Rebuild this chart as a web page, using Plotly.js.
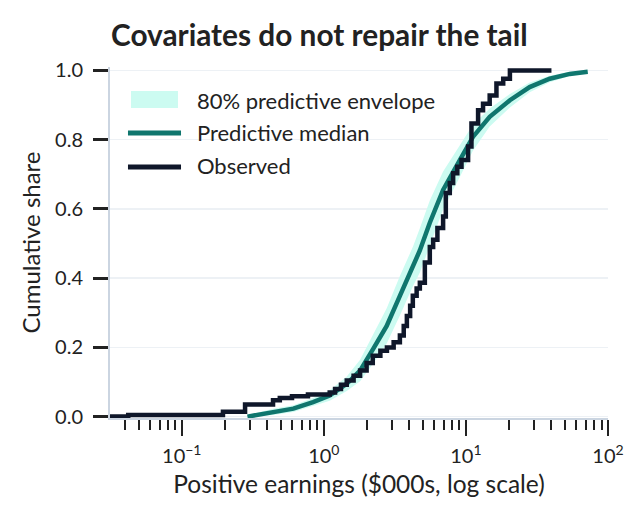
<!DOCTYPE html>
<html><head><meta charset="utf-8">
<script src="https://cdn.plot.ly/plotly-3.0.1.min.js"></script>
<style>html,body{margin:0;padding:0;background:#fff}#chart{width:643px;height:523px}</style>
</head><body><div id="chart"></div>
<script>
// Predictive median CDF (x in $000s)
const medX = [0.29, 0.44, 0.61, 0.84, 1.10, 1.45, 1.80, 2.22, 2.77, 3.43, 4.25, 4.74, 5.57, 6.91, 9.06, 11.2, 14.7, 20.4, 28.1, 38.9, 53.8, 72];
const medY = [0.0, 0.0135, 0.023, 0.042, 0.061, 0.095, 0.133, 0.195, 0.262, 0.349, 0.435, 0.48, 0.56, 0.655, 0.741, 0.808, 0.866, 0.914, 0.952, 0.976, 0.99, 0.996];
// 80% predictive envelope bounds on the same grid
const envLo = [0.0, 0.0045, 0.013, 0.030, 0.046, 0.074, 0.102, 0.153, 0.211, 0.292, 0.378, 0.416, 0.496, 0.598, 0.692, 0.768, 0.838, 0.893, 0.937, 0.966, 0.984, 0.993];
const envHi = [0.004, 0.0225, 0.033, 0.054, 0.076, 0.116, 0.164, 0.237, 0.313, 0.406, 0.492, 0.544, 0.624, 0.708, 0.785, 0.843, 0.89, 0.932, 0.965, 0.985, 0.996, 0.999];
// Observed empirical CDF (steps)
const obsX = [0.031, 0.042, 0.195, 0.279, 0.439, 0.49, 0.597, 0.773, 1.10, 1.20, 1.32, 1.45, 1.62, 1.80, 2.0, 2.21, 2.5, 2.78, 3.1, 3.43, 3.65, 3.84, 4.05, 4.23, 4.5, 4.74, 5.14, 5.57, 5.88, 6.3, 6.91, 7.22, 7.7, 8.13, 8.7, 9.31, 10.36, 10.94, 12.18, 13.2, 14.7, 16.4, 18.3, 20.4, 40.0];
const obsY = [0, 0.005, 0.014, 0.035, 0.047, 0.054, 0.059, 0.064, 0.07, 0.08, 0.092, 0.104, 0.118, 0.133, 0.155, 0.176, 0.19, 0.2, 0.215, 0.234, 0.262, 0.291, 0.32, 0.349, 0.37, 0.387, 0.445, 0.49, 0.511, 0.545, 0.578, 0.646, 0.675, 0.703, 0.722, 0.741, 0.78, 0.847, 0.885, 0.904, 0.928, 0.962, 0.976, 1.0, 1.0];
// Axis ticks
const xTickVals = [0.1, 1, 10, 100];
const xTickText = ['10<sup>−1</sup>', '10<sup>0</sup>', '10<sup>1</sup>', '10<sup>2</sup>'];
const xMinorVals = [0.04,0.05,0.06,0.07,0.08,0.09,0.2,0.3,0.4,0.5,0.6,0.7,0.8,0.9,2,3,4,5,6,7,8,9,20,30,40,50,60,70,80,90];
const yTickVals = [0, 0.2, 0.4, 0.6, 0.8, 1.0];

const FONT = 'Lato, "Noto Sans", sans-serif';
const MINT = '#ccfbf1', TEAL = '#0f766e', NAVY = '#0f172a';
const CLEAR = 'rgba(0,0,0,0)';
const traces = [
  {x: medX, y: envLo, type: 'scatter', mode: 'lines', line: {width: 0, color: CLEAR}, showlegend: false, hoverinfo: 'skip'},
  {x: medX, y: envHi, type: 'scatter', mode: 'lines', fill: 'tonexty', fillcolor: MINT, line: {width: 0, color: CLEAR}, showlegend: false},
  {x: medX, y: medY, type: 'scatter', mode: 'lines', line: {color: TEAL, width: 4.5}, showlegend: false},
  {x: obsX, y: obsY, type: 'scatter', mode: 'lines', line: {color: NAVY, width: 4.5, shape: 'hv'}, showlegend: false},
  // legend entries (swatches drawn as shapes below)
  {x: [null], y: [null], type: 'scatter', mode: 'lines', line: {width: 1, color: CLEAR}, name: '80% predictive envelope', legendgroup: 'a'},
  {x: [null], y: [null], type: 'scatter', mode: 'lines', line: {width: 1, color: CLEAR}, name: 'Predictive median', legendgroup: 'b'},
  {x: [null], y: [null], type: 'scatter', mode: 'lines', line: {width: 1, color: CLEAR}, name: 'Observed', legendgroup: 'c'}
];
const layout = {
  width: 643, height: 523,
  margin: {l: 110, r: 35, t: 67, b: 105},
  paper_bgcolor: '#fff', plot_bgcolor: '#fff',
  font: {family: FONT, color: '#222', size: 20},
  title: {text: '<b>Covariates do not repair the tail</b>', font: {family: FONT, size: 29.8, color: '#222'},
          xref: 'container', yref: 'container', x: 111/643, xanchor: 'left', y: 1 - 36/523, yanchor: 'middle'},
  xaxis: {type: 'log', range: [-1.505, 2], showline: true, linecolor: '#cbd5e1', linewidth: 2,
          ticks: 'outside', ticklen: 16, tickwidth: 2.5, tickcolor: '#222',
          tickvals: xTickVals, ticktext: xTickText, showgrid: false, zeroline: false,
          ticklabelstandoff: 3, tickfont: {size: 20, color: '#222'},
          minor: {tickvals: xMinorVals, ticks: 'outside', ticklen: 10, tickwidth: 2, tickcolor: '#222', showgrid: false},
          title: {text: 'Positive earnings ($000s, log scale)', font: {size: 24.5, color: '#222'}, standoff: 10}},
  yaxis: {range: [-0.004, 1.01], showline: true, linecolor: '#cbd5e1', linewidth: 2,
          ticks: 'outside', ticklen: 15, tickwidth: 3, tickcolor: '#222',
          tickvals: yTickVals, tickformat: '.1f', showgrid: true, gridcolor: '#edf1f5', gridwidth: 1.5, zeroline: false,
          ticklabelstandoff: 6, tickfont: {size: 20, color: '#222'},
          title: {text: 'Cumulative share', font: {size: 24, color: '#222'}, standoff: 8}},
  legend: {x: 0.026, y: 0.965, xanchor: 'left', yanchor: 'top', bgcolor: 'rgba(0,0,0,0)',
           font: {family: FONT, size: 22, color: '#222'}, tracegroupgap: 1, itemwidth: 64},
  shapes: [
    // legend swatches
    {type: 'rect', xref: 'paper', yref: 'paper', x0: 0.0422, x1: 0.1365, y0: 0.883, y1: 0.9316,
     fillcolor: MINT, line: {width: 0}, layer: 'above'},
    {type: 'line', xref: 'paper', yref: 'paper', x0: 0.0361, x1: 0.1426, y0: 0.812, y1: 0.812,
     line: {color: TEAL, width: 5}, layer: 'above'},
    {type: 'line', xref: 'paper', yref: 'paper', x0: 0.0361, x1: 0.1426, y0: 0.7151, y1: 0.7151,
     line: {color: NAVY, width: 5}, layer: 'above'}
  ],
  showlegend: true
};
Plotly.newPlot('chart', traces, layout, {displayModeBar: false, staticPlot: true});
</script></body></html>
